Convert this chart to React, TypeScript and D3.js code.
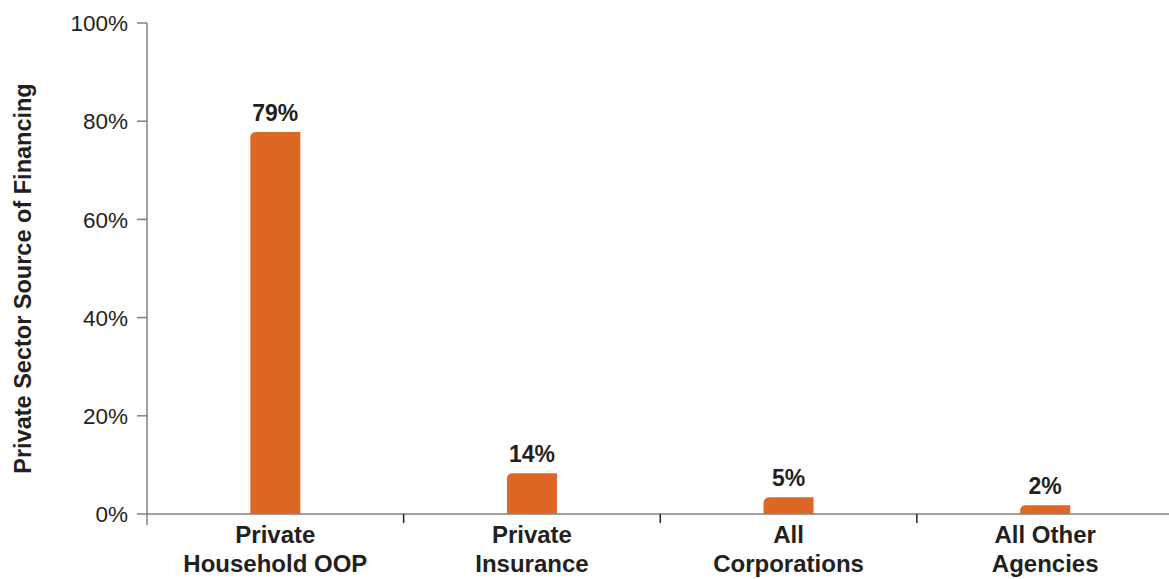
import React from "react";
import * as d3 from "d3";

const categories: string[][] = [
  ["Private", "Household OOP"],
  ["Private", "Insurance"],
  ["All", "Corporations"],
  ["All Other", "Agencies"],
];
const barValues: number[] = [77.8, 8.3, 3.4, 1.8];
const valueLabels: string[] = ["79%", "14%", "5%", "2%"];
const yTicks: number[] = [0, 20, 40, 60, 80, 100];

const W = 1169;
const H = 579;
const BAR = "#DD6724";
const TEXT = "#231F20";
const AXIS = "#808080";
const FONT = "'Liberation Sans', Arial, sans-serif";

function barPath(x: number, y: number, w: number, h: number, r: number) {
  const rr = Math.min(r, h, w / 2);
  const p = d3.path();
  p.moveTo(x, y + h);
  p.lineTo(x, y + rr);
  p.quadraticCurveTo(x, y, x + rr, y);
  p.lineTo(x + w, y);
  p.lineTo(x + w, y + h);
  p.closePath();
  return p.toString();
}

export default function App() {
  const x0 = 147;
  const x1 = 1173.5;
  const y = d3.scaleLinear().domain([0, 100]).range([514, 23]);
  const x = d3
    .scaleBand<number>()
    .domain(categories.map((_, i) => i))
    .range([x0, x1])
    .paddingInner(0)
    .paddingOuter(0);
  const bw = 50;
  const bandEdges = categories.map((_, i) => x(i) as number);

  return (
    <svg
      width={W}
      height={H}
      style={{ position: "absolute", left: 0, top: 0, background: "#fff" }}
      fontFamily={FONT}
    >
      {/* y axis */}
      <line x1={x0} x2={x0} y1={y(100)} y2={525} stroke={AXIS} strokeWidth={1.5} />
      {yTicks.map((t) => (
        <g key={t}>
          <line x1={137} x2={x0} y1={y(t)} y2={y(t)} stroke={AXIS} strokeWidth={1.5} />
          <text
            x={128}
            y={y(t)}
            dy="0.36em"
            textAnchor="end"
            fontSize={22.5}
            fill={TEXT}
          >
            {t}%
          </text>
        </g>
      ))}
      {/* x axis */}
      <line x1={x0} x2={W} y1={y(0)} y2={y(0)} stroke={AXIS} strokeWidth={1.5} />
      {bandEdges.slice(1).map((bx, i) => (
        <line key={i} x1={bx} x2={bx} y1={y(0)} y2={523} stroke={TEXT} strokeWidth={1.5} />
      ))}
      {/* bars */}
      {barValues.map((v, i) => {
        const cx = (x(i) as number) + x.bandwidth() / 2;
        const top = y(v);
        return (
          <g key={i}>
            <path d={barPath(cx - bw / 2, top, bw, y(0) - top, 6)} fill={BAR} />
            <text
              x={cx}
              y={top - 11}
              textAnchor="middle"
              fontSize={23}
              fontWeight="bold"
              fill={TEXT}
            >
              {valueLabels[i]}
            </text>
          </g>
        );
      })}
      {/* category labels */}
      {categories.map((lines, i) => {
        const cx = (x(i) as number) + x.bandwidth() / 2;
        return (
          <text
            key={i}
            x={cx}
            textAnchor="middle"
            fontSize={24}
            fontWeight="bold"
            fill={TEXT}
          >
            {lines.map((l, j) => (
              <tspan key={j} x={cx} y={543 + j * 28.5}>
                {l}
              </tspan>
            ))}
          </text>
        );
      })}
      {/* y title */}
      <text
        transform={`translate(30.5, ${(y(0) + y(100)) / 2 + 10}) rotate(-90)`}
        textAnchor="middle"
        fontSize={23.5}
        fontWeight="bold"
        fill={TEXT}
      >
        Private Sector Source of Financing
      </text>
    </svg>
  );
}
